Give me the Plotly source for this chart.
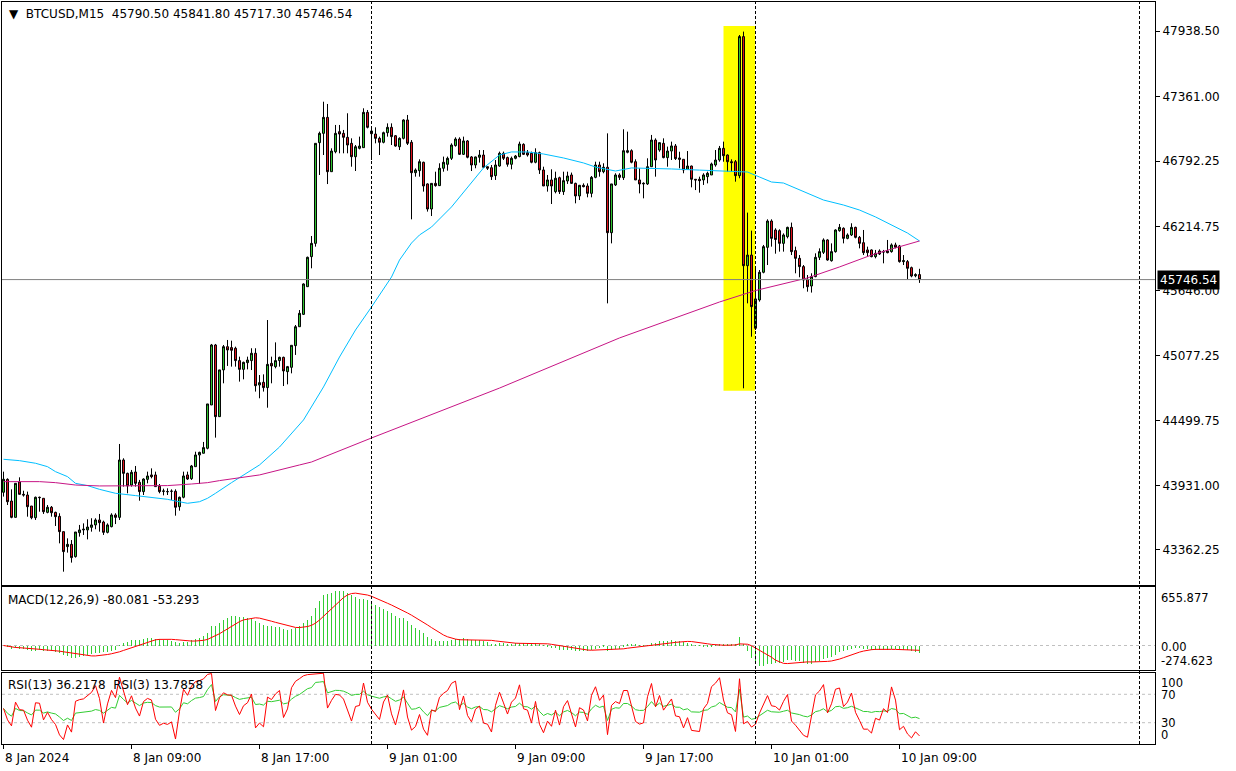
import plotly.graph_objects as go
from plotly.subplots import make_subplots
import pandas as pd

# ---------------- data (BTCUSD M15, 8 Jan 01:00 -> 10 Jan 10:00, 2024) ----------------
opens = [
    43871, 43985, 43794, 43650, 43962, 43853, 43847, 43750, 43647, 43827,
    43818, 43694, 43739, 43694, 43659, 43524, 43392, 43412, 43304, 43515,
    43539, 43539, 43562, 43583, 43627, 43609, 43518, 43568, 43671, 43650,
    44156, 44038, 43935, 44050, 43959, 43877, 43985, 44024, 44024, 43924,
    43880, 43877, 43880, 43880, 43744, 43827, 44024, 43991, 44097, 44200,
    44215, 44259, 44641, 45170, 44538, 44950, 45155, 45147, 45141, 45032,
    44955, 45014, 45032, 45097, 44817, 44841, 44794, 45008, 44979, 45032,
    45061, 44935, 44973, 45164, 45331, 45440, 45684, 45949, 46066, 46954,
    47036, 47177, 46698, 46874, 47051, 47036, 47001, 46948, 46830, 46904,
    46910, 47221, 47057, 47030, 46992, 46957, 47042, 47089, 47015, 46918,
    46992, 47154, 46957, 46689, 46707, 46781, 46590, 46369, 46595, 46575,
    46728, 46763, 46816, 46928, 46986, 46851, 46969, 46828, 46757, 46825,
    46845, 46742, 46733, 46663, 46748, 46860, 46822, 46763, 46816, 46831,
    46939, 46866, 46860, 46781, 46866, 46713, 46572, 46625, 46522, 46645,
    46522, 46616, 46669, 46595, 46484, 46578, 46572, 46507, 46648, 46757,
    46698, 46737, 46160, 46581, 46669, 46645, 46869, 46883, 46786, 46625,
    46590, 46590, 46742, 46977, 46889, 46948, 46822, 46880, 46925, 46819,
    46807, 46719, 46748, 46631, 46631, 46625, 46654, 46669, 46757, 46801,
    46904, 46845, 46786, 46786, 46663, 47889, 45869, 45963, 45317, 45567,
    45811, 46031, 46263, 46184, 46178, 46066, 46125, 46207, 46002, 45934,
    45861, 45749, 45690, 45773, 45943, 45987, 46096, 45913, 45993, 46178,
    46199, 46110, 46140, 46207, 46119, 46072, 46008, 46008, 45949, 45999,
    45993, 45999, 45993, 46052, 46043, 45905, 45905, 45852, 45780, 45790.50,
]
highs = [
    44053, 43994, 43897, 43950, 44003, 43885, 43877, 43750, 43833, 43833,
    43818, 43759, 43750, 43700, 43686, 43524, 43465, 43450, 43521, 43583,
    43597, 43633, 43642, 43642, 43680, 43621, 43597, 43686, 43686, 44297,
    44171, 44044, 44068, 44103, 43980, 43994, 44053, 44082, 44053, 43944,
    43903, 43906, 43897, 43897, 43833, 44053, 44053, 44112, 44229, 44229,
    44315, 44650, 45179, 45179, 44950, 45170, 45214, 45208, 45155, 45067,
    45023, 45067, 45141, 45141, 44905, 44911, 45390, 45067, 45193, 45067,
    45067, 44985, 45167, 45346, 45478, 45713, 45949, 46131, 46948, 47051,
    47315, 47295, 46904, 47110, 47110, 47066, 47213, 46992, 46933, 47007,
    47257, 47242, 47095, 47089, 47007, 47051, 47124, 47124, 47021, 47001,
    47160, 47198, 46977, 46727, 46807, 46786, 46595, 46595, 46698, 46772,
    46831, 46831, 46948, 47001, 47001, 47007, 46977, 46836, 46831, 46889,
    46889, 46742, 46757, 46801, 46875, 46875, 46831, 46831, 46845, 46963,
    46948, 46889, 46875, 46904, 46875, 46742, 46669, 46719, 46698, 46654,
    46698, 46698, 46690, 46601, 46581, 46595, 46595, 46660, 46786, 46786,
    46772, 47036, 46590, 46684, 46684, 47072, 47051, 46895, 46807, 46728,
    46604, 46816, 47022, 46992, 46954, 46992, 46919, 46963, 46942, 46874,
    46807, 46880, 46751, 46631, 46654, 46684, 46698, 46778, 46889, 46925,
    46963, 46851, 46807, 46801, 47903, 47933, 46337, 46178, 45861, 45831,
    46052, 46278, 46278, 46199, 46190, 46154, 46213, 46249, 46037, 45963,
    45875, 45787, 45802, 45978, 46022, 46110, 46102, 46066, 46190, 46237,
    46207, 46154, 46243, 46213, 46131, 46184, 46037, 46013, 46008, 46013,
    46008, 46096, 46066, 46072, 46052, 45963, 45919, 45861, 45802, 45841.80,
]
lows = [
    43833, 43759, 43642, 43650, 43853, 43833, 43656, 43633, 43627, 43700,
    43680, 43686, 43656, 43574, 43421, 43171, 43339, 43251, 43295, 43480,
    43495, 43456, 43524, 43545, 43524, 43495, 43509, 43562, 43591, 43627,
    43921, 43862, 43921, 43921, 43797, 43847, 43950, 43994, 43921, 43862,
    43844, 43847, 43803, 43665, 43709, 43818, 43980, 43980, 44097, 43944,
    44215, 44250, 44641, 44353, 44538, 44832, 44985, 44979, 44979, 44847,
    44867, 44955, 44949, 44759, 44700, 44759, 44617, 44832, 44964, 44979,
    44808, 44823, 44920, 45082, 45331, 45434, 45684, 45846, 46037, 46669,
    46845, 46589, 46698, 46860, 46860, 46860, 46860, 46742, 46704, 46895,
    46910, 47080, 46801, 46948, 46845, 46948, 47007, 46933, 46918, 46889,
    46983, 46933, 46278, 46654, 46654, 46522, 46346, 46307, 46566, 46572,
    46698, 46707, 46801, 46919, 46845, 46845, 46816, 46704, 46728, 46778,
    46737, 46713, 46625, 46625, 46742, 46801, 46742, 46719, 46807, 46825,
    46845, 46831, 46772, 46772, 46678, 46572, 46522, 46413, 46507, 46501,
    46493, 46590, 46590, 46419, 46448, 46560, 46472, 46472, 46640, 46654,
    46684, 45537, 46066, 46572, 46625, 46625, 46860, 46772, 46625, 46507,
    46463, 46581, 46742, 46654, 46874, 46816, 46742, 46801, 46801, 46728,
    46684, 46713, 46560, 46536, 46513, 46581, 46595, 46669, 46742, 46786,
    46786, 46698, 46698, 46610, 46640, 44788, 45537, 45243, 45302, 45552,
    45802, 45875, 46037, 45975, 45993, 45993, 46110, 45963, 45802, 45767,
    45670, 45640, 45632, 45767, 45919, 45972, 45913, 45905, 45984, 46169,
    46066, 46102, 46131, 46110, 46022, 45963, 45949, 45943, 45934, 45963,
    45890, 45978, 45984, 46022, 45896, 45875, 45749, 45767, 45767, 45717.30,
]
closes = [
    43986, 43788, 43650, 43950, 43853, 43847, 43744, 43647, 43827, 43824,
    43700, 43739, 43691, 43656, 43524, 43348, 43412, 43295, 43521, 43539,
    43545, 43565, 43583, 43627, 43603, 43518, 43583, 43671, 43650, 44156,
    44038, 43927, 44047, 43950, 43877, 43988, 44015, 44009, 43921, 43877,
    43882, 43877, 43880, 43739, 43827, 44015, 43988, 44103, 44200, 44223,
    44265, 44650, 45170, 44538, 44950, 45155, 45126, 45123, 45032, 44955,
    45017, 45037, 45097, 44811, 44838, 44794, 44999, 44985, 45032, 45061,
    44941, 44979, 45167, 45331, 45449, 45708, 45943, 46066, 46948, 47036,
    47177, 46698, 46880, 47036, 47030, 47001, 46933, 46830, 46918, 46924,
    47221, 47089, 47033, 46992, 46957, 47042, 47089, 47007, 46924, 46992,
    47154, 46948, 46689, 46713, 46786, 46572, 46369, 46595, 46575, 46728,
    46781, 46816, 46933, 46986, 46851, 46969, 46825, 46757, 46828, 46845,
    46737, 46728, 46654, 46757, 46860, 46816, 46763, 46816, 46836, 46942,
    46851, 46845, 46781, 46866, 46713, 46572, 46625, 46572, 46640, 46522,
    46619, 46660, 46595, 46484, 46578, 46566, 46507, 46648, 46757, 46698,
    46737, 46160, 46590, 46669, 46648, 46883, 46883, 46781, 46625, 46590,
    46595, 46742, 46977, 46801, 46954, 46822, 46880, 46925, 46813, 46807,
    46713, 46748, 46631, 46625, 46619, 46669, 46684, 46766, 46801, 46904,
    46839, 46786, 46778, 46663, 47889, 45869, 45963, 45508, 45576, 45811,
    46037, 46263, 46110, 46100, 46066, 46140, 46207, 45993, 45934, 45861,
    45743, 45684, 45773, 45943, 45993, 46096, 45919, 45993, 46184, 46207,
    46110, 46140, 46207, 46119, 46066, 45984, 45984, 45949, 45978, 45972,
    45990, 45984, 46052, 46031, 45905, 45913, 45846, 45778, 45790, 45746.54,
]

# moving averages (candle index, price)
blue_ma_idx = [0, 4, 8, 11, 13, 16, 18, 21, 24, 28, 33, 37, 41, 43, 46, 49, 51, 53, 57, 64,
               69, 75, 80, 84, 88, 92, 97, 99, 102, 104, 107, 112, 117, 120, 124, 127, 131, 135, 140, 145,
               148, 153, 157, 160, 167, 174, 183, 186, 189, 192, 195, 205, 210, 214, 218, 222, 226, 229]
blue_ma_val = [44162, 44150, 44127, 44097, 44053, 44009, 43950, 43930, 43897, 43862,
               43842, 43827, 43809, 43794, 43774, 43788, 43818, 43862, 43956, 44112,
               44270, 44509, 44800, 45064, 45302, 45505, 45769, 45919, 46069, 46140,
               46210, 46387, 46598, 46731, 46845, 46872, 46872, 46854, 46819, 46775,
               46739, 46704, 46731, 46730, 46722, 46712, 46700, 46695, 46651, 46607,
               46598, 46448, 46404, 46360, 46299, 46228, 46157, 46087]
mag_ma_idx = [0, 9, 13, 18, 24, 32, 41, 47, 51, 54, 57, 64, 74, 77, 92, 124, 154, 179, 188, 194,
              201, 209, 217, 222, 229]
mag_ma_val = [43965, 43965, 43956, 43935, 43927, 43927, 43930, 43944, 43956, 43974,
              43988, 44024, 44112, 44138, 44350, 44790, 45232, 45549, 45650, 45699,
              45761, 45858, 45963, 46016, 46087]

price_ticks = [47938.50, 47361.00, 46792.25, 46214.75, 45646.00, 45077.25, 44499.75, 43931.00, 43362.25]
time_tick_idx = [0, 32, 64, 96, 128, 160, 192, 224]
time_tick_text = ["8 Jan 2024", "8 Jan 09:00", "8 Jan 17:00", "9 Jan 01:00",
                  "9 Jan 09:00", "9 Jan 17:00", "10 Jan 01:00", "10 Jan 09:00"]
day_separators = [92, 188, 284]
macd_label = "MACD(12,26,9) -80.081 -53.293"
rsi_label = "RSI(13) 36.2178  RSI(3) 13.7858"
macd_scale = [655.877, 0.00, -274.623]
rsi_scale = [100, 70, 30, 0]
highlight_idx = [180.0, 187.9]
highlight_price = [44767, 47983]

# ---------------- indicators derived from the closes ----------------
cs = pd.Series(closes, dtype=float)
macd_main = cs.ewm(span=12, adjust=False).mean() - cs.ewm(span=26, adjust=False).mean()
macd_signal = macd_main.rolling(9, min_periods=1).mean()


def rsi(values, n):
    diffs = [values[k] - values[k - 1] for k in range(1, len(values))]
    seed = sum(abs(d) for d in diffs[:n]) / n / 2.0
    au, ad = seed, seed
    out = [50.0]
    for d in diffs:
        au = (au * (n - 1) + max(d, 0)) / n
        ad = (ad * (n - 1) + max(-d, 0)) / n
        out.append(100.0 * au / (au + ad) if (au + ad) > 0 else 50.0)
    return out


rsi13 = rsi(closes, 13)
rsi3 = rsi(closes, 3)

idx = list(range(len(closes)))

GREEN = "#32CD32"
RED = "#FF0000"
CANDLE_RED = "#E8141E"
FONT = "DejaVu Sans"

fig = make_subplots(rows=3, cols=1, shared_xaxes=True, vertical_spacing=0.0)

fig.add_trace(go.Candlestick(
    x=idx, open=opens, high=highs, low=lows, close=closes,
    increasing=dict(fillcolor=GREEN, line=dict(color="black", width=1)),
    decreasing=dict(fillcolor=CANDLE_RED, line=dict(color="black", width=1)),
    whiskerwidth=0, showlegend=False), row=1, col=1)
fig.add_trace(go.Scatter(x=blue_ma_idx, y=blue_ma_val, mode="lines",
                         line=dict(color="#00BFFF", width=1), showlegend=False), row=1, col=1)
fig.add_trace(go.Scatter(x=mag_ma_idx, y=mag_ma_val, mode="lines",
                         line=dict(color="#C71585", width=1), showlegend=False), row=1, col=1)

fig.add_trace(go.Bar(x=idx, y=macd_main, width=0.25, marker=dict(color=GREEN, line=dict(width=0)),
                     showlegend=False), row=2, col=1)
fig.add_trace(go.Scatter(x=idx, y=macd_signal, mode="lines", line=dict(color=RED, width=1),
                         showlegend=False), row=2, col=1)

fig.add_trace(go.Scatter(x=idx, y=rsi13, mode="lines", line=dict(color=GREEN, width=1),
                         showlegend=False), row=3, col=1)
fig.add_trace(go.Scatter(x=idx, y=rsi3, mode="lines", line=dict(color=RED, width=1),
                         showlegend=False), row=3, col=1)

xr = [-0.375, -0.375 + 1153 / 4.0]
axis_common = dict(showline=True, linecolor="black", linewidth=1, mirror=True,
                   showgrid=False, zeroline=False)
for ax in ["xaxis", "xaxis2", "xaxis3"]:
    fig.layout[ax].update(range=xr, **axis_common)
fig.layout.xaxis.update(rangeslider=dict(visible=False), showticklabels=False, ticks="")
fig.layout.xaxis2.update(showticklabels=False, ticks="")
fig.layout.xaxis3.update(showticklabels=False, ticks="outside", ticklen=4, tickcolor="black",
                         tickvals=time_tick_idx)

ppx = 8.8174
fig.layout.yaxis.update(domain=[0.2143, 1.0], side="right",
                        range=[43362.25 - 35 * ppx, 47938.5 + 29 * ppx],
                        tickvals=price_ticks, ticktext=[f"{v:.2f}" for v in price_ticks],
                        ticks="outside", ticklen=4, tickcolor="black",
                        tickfont=dict(family=FONT, size=12, color="black"), **axis_common)
fig.layout.yaxis2.update(domain=[0.0997, 0.2116], side="right", range=[macd_scale[2], macd_scale[0]],
                         showticklabels=False, ticks="", **axis_common)
fig.layout.yaxis3.update(domain=[0.0, 0.0957], side="right", range=[0, 100],
                         showticklabels=False, ticks="", **axis_common)

shapes = []
# highlight box
shapes.append(dict(type="rect", xref="x", yref="y", x0=highlight_idx[0], x1=highlight_idx[1],
                   y0=highlight_price[0], y1=highlight_price[1],
                   fillcolor="#FFFF00", line=dict(width=0), layer="below"))
# bid price line
shapes.append(dict(type="line", xref="paper", yref="y", x0=0, x1=1, y0=closes[-1], y1=closes[-1],
                   line=dict(color="#808080", width=1)))
# indicator levels
shapes.append(dict(type="line", xref="paper", yref="y2", x0=0, x1=1, y0=0, y1=0,
                   line=dict(color="#C0C0C0", width=1, dash="3px,3px"), layer="below"))
for lv in rsi_scale[1:3]:
    shapes.append(dict(type="line", xref="paper", yref="y3", x0=0, x1=1, y0=lv, y1=lv,
                       line=dict(color="#C0C0C0", width=1, dash="3px,3px"), layer="below"))
# day separators
for s in day_separators:
    shapes.append(dict(type="line", xref="x", yref="paper", x0=s, x1=s, y0=0, y1=1,
                       line=dict(color="black", width=1, dash="3px,2px")))
fig.update_layout(shapes=shapes)

ann = []
tf = dict(family=FONT, size=12, color="black")
sf = dict(family=FONT, size=11.5, color="black")
ann.append(dict(xref="paper", yref="paper", x=0, y=1, xanchor="left", yanchor="top",
                xshift=5, yshift=-3, showarrow=False, font=tf,
                text="▼  BTCUSD,M15  " + " ".join(f"{v:.2f}" for v in
                                                 [opens[-1], highs[-1], lows[-1], closes[-1]])))
ann.append(dict(xref="paper", yref="paper", x=0, y=0.2116, xanchor="left", yanchor="top",
                xshift=4, yshift=-4, showarrow=False, font=tf, text=macd_label))
ann.append(dict(xref="paper", yref="paper", x=0, y=0.0957, xanchor="left", yanchor="top",
                xshift=4, yshift=-3, showarrow=False, font=tf, text=rsi_label))
# macd scale labels
ann.append(dict(xref="paper", yref="y2", x=1, y=macd_scale[0], xanchor="left", yanchor="top",
                xshift=4, yshift=-2, showarrow=False, font=sf, text=f"{macd_scale[0]:.3f}"))
ann.append(dict(xref="paper", yref="y2", x=1, y=macd_scale[1], xanchor="left", yanchor="middle",
                xshift=4, yshift=-1, showarrow=False, font=sf, text=f"{macd_scale[1]:.2f}"))
ann.append(dict(xref="paper", yref="y2", x=1, y=macd_scale[2], xanchor="left", yanchor="bottom",
                xshift=4, yshift=0, showarrow=False, font=sf, text=f"{macd_scale[2]:.3f}"))
# rsi scale labels
for lv, anc, ys in zip(rsi_scale, ["top", "middle", "middle", "bottom"], [-1, -1, 0, 0]):
    ann.append(dict(xref="paper", yref="y3", x=1, y=lv, xanchor="left", yanchor=anc,
                    xshift=4, yshift=ys, showarrow=False, font=sf, text=str(lv)))
# time labels
for ti, tt in zip(time_tick_idx, time_tick_text):
    ann.append(dict(xref="x", yref="paper", x=ti, y=0, xanchor="left", yanchor="top",
                    xshift=-1, yshift=-5, showarrow=False, font=tf, text=tt))
# current price box
ann.append(dict(xref="paper", yref="y", x=1, y=closes[-1], xanchor="left", yanchor="middle",
                xshift=2, showarrow=False, bgcolor="black", borderpad=2,
                font=dict(family=FONT, size=12, color="white"), text=f"{closes[-1]:.2f}"))
fig.update_layout(annotations=ann)

fig.update_layout(width=1236, height=771, margin=dict(l=2, r=81, t=2, b=27),
                  paper_bgcolor="white", plot_bgcolor="white", showlegend=False,
                  boxgap=0.3, bargap=0, hovermode=False)

fig.write_html("out.html", config={"displayModeBar": False},
               post_script="document.body.style.margin='0';document.body.style.overflow='hidden';")
